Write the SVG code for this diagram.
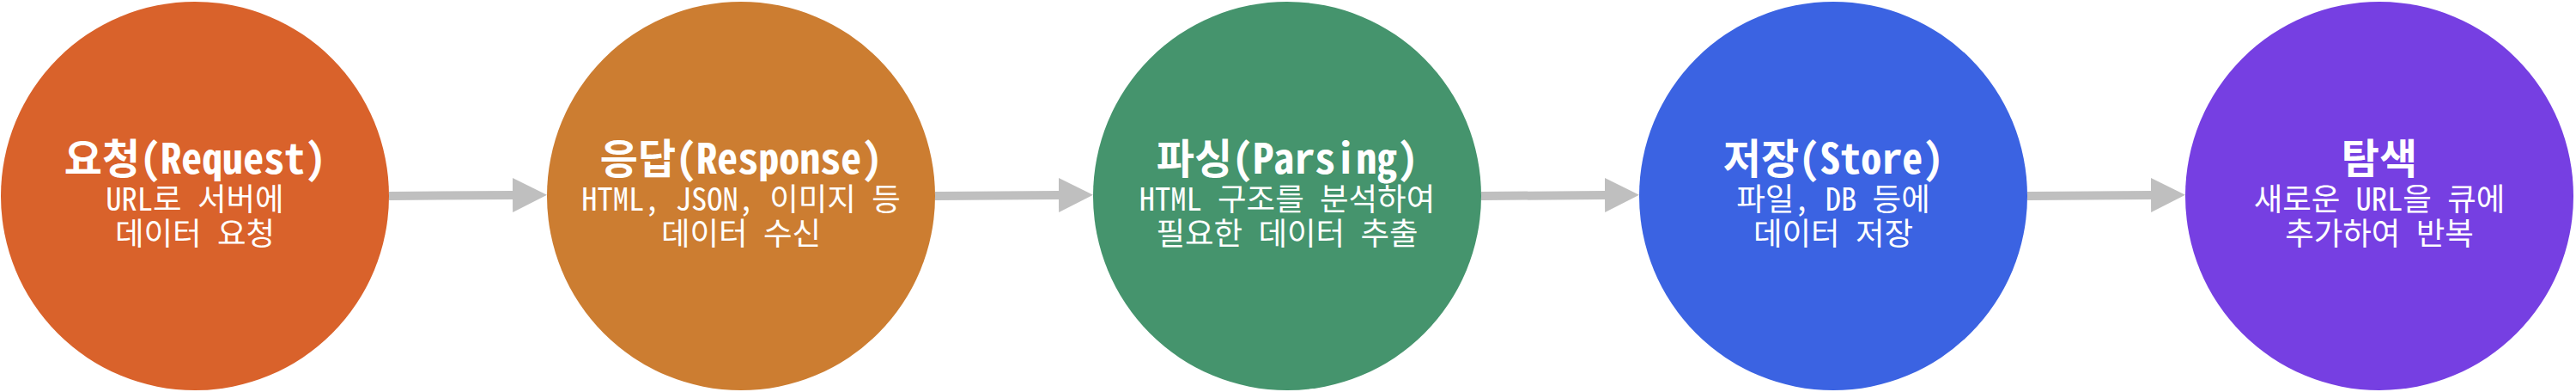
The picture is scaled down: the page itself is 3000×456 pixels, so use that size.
<svg xmlns="http://www.w3.org/2000/svg" width="3000" height="456" viewBox="0 0 3000 456">
<style>
.t{font-family:'Noto Sans Mono CJK KR','DejaVu Sans Mono','Noto Sans CJK KR',monospace;fill:#ffffff;text-anchor:middle}
.h{font-size:48px;font-weight:bold}
.s{font-size:36.5px;font-weight:normal}
.c{stroke:#BFBFBF;stroke-width:10;fill:none}
</style>
<defs>
<marker id="ah" viewBox="0 0 4 4" refX="0" refY="2" markerWidth="4" markerHeight="4" markerUnits="strokeWidth" orient="auto">
<path d="M0,0 L4,2 L0,4 z" fill="#BFBFBF"/>
</marker>
</defs>
<rect width="3000" height="456" fill="#ffffff"/>
<g id="connectors">
<path class="c" d="M453,228 L597,227" marker-end="url(#ah)"/>
<path class="c" d="M1089,228 L1233,227" marker-end="url(#ah)"/>
<path class="c" d="M1725,228 L1869,227" marker-end="url(#ah)"/>
<path class="c" d="M2361,228 L2505,227" marker-end="url(#ah)"/>
</g>
<g id="request">
<circle cx="227" cy="228" r="226" fill="#D9622B"/>
<text class="t"><tspan class="h" x="227" y="202">요청(Request)</tspan><tspan class="s" x="227" y="245">URL로 서버에</tspan><tspan class="s" x="227" y="285">데이터 요청</tspan></text>
</g>
<g id="response">
<circle cx="863" cy="228" r="226" fill="#CC7D31"/>
<text class="t"><tspan class="h" x="863" y="202">응답(Response)</tspan><tspan class="s" x="863" y="245">HTML, JSON, 이미지 등</tspan><tspan class="s" x="863" y="285">데이터 수신</tspan></text>
</g>
<g id="parsing">
<circle cx="1499" cy="228" r="226" fill="#45946D"/>
<text class="t"><tspan class="h" x="1499" y="202">파싱(Parsing)</tspan><tspan class="s" x="1499" y="245">HTML 구조를 분석하여</tspan><tspan class="s" x="1499" y="285">필요한 데이터 추출</tspan></text>
</g>
<g id="store">
<circle cx="2135" cy="228" r="226" fill="#3B63E2"/>
<text class="t"><tspan class="h" x="2135" y="202">저장(Store)</tspan><tspan class="s" x="2135" y="245">파일, DB 등에</tspan><tspan class="s" x="2135" y="285">데이터 저장</tspan></text>
</g>
<g id="explore">
<circle cx="2771" cy="228" r="226" fill="#763FE2"/>
<text class="t"><tspan class="h" x="2771" y="202">탐색</tspan><tspan class="s" x="2771" y="245">새로운 URL을 큐에</tspan><tspan class="s" x="2771" y="285">추가하여 반복</tspan></text>
</g>
</svg>
